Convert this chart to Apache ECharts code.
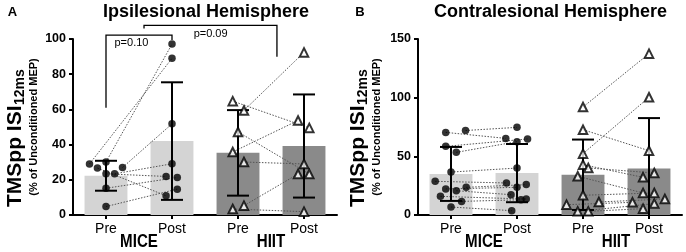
<!DOCTYPE html>
<html><head><meta charset="utf-8">
<script src="https://cdn.jsdelivr.net/npm/echarts@6/dist/echarts.min.js"></script>
<style>html,body{margin:0;padding:0;background:#fff}#c{width:686px;height:252px}</style>
</head><body><div id="c"></div>
<script>
// ---------- DATA ----------
const categories = ['Pre', 'Post', 'Pre', 'Post'];
const groups = ['MICE', 'HIIT'];
const groupPos = [0.5, 2.5];

// Panel A: Ipsilesional Hemisphere (y 0-100)
const A_means = [22.3, 42.0, 35.3, 39.2];
const A_sd = [8.5, 33.4, 24.3, 29.3];
const A_micePre = [29.0, 30.1, 27.0, 23.4, 23.4, 26.7, 15.2, 4.8];
const A_micePreJit = [-0.25, 0, 0.25, 0.13, 0, -0.13, 0, 0];
const A_micePost = [89.0, 97.1, 51.8, 29.1, 21.9, 10.9, 21.3, 14.7];
const A_micePostJit = [0, 0, 0, 0, -0.09, -0.09, 0.08, 0.08];
const A_hiitPre = [59.4, 64.7, 35.8, 47.2, 30.1, 5.3, 3.4];
const A_hiitPreJit = [0.09, -0.08, -0.08, 0, 0.09, 0.09, -0.08];
const A_hiitPost = [92.4, 49.5, 53.7, 23.3, 29.0, 23.3, 1.9];
const A_hiitPostJit = [0, 0.08, -0.09, 0.08, 0, -0.09, 0];
// significance brackets: [x1, x2, yTop, yLeftEnd, yRightEnd]
const A_brackets = [[0, 1, 102.2, 60.9, 99.4], [0.576, 2.59, 107.7, 105.9, 89.9]];
const A_pTexts = ['p=0.10', 'p=0.09'];
const A_pPos = [[0.386, 97.9], [1.585, 102.9]];

// Panel B: Contralesional Hemisphere (y 0-150)
const B_means = [35.0, 35.7, 34.3, 39.6];
const B_sd = [23.0, 24.8, 30.0, 43.0];
const B_micePre = [72.0, 70.4, 58.5, 53.4, 36.6, 28.7, 23.6, 22.2, 20.7, 15.9, 11.6, 6.8];
const B_micePreJit = [0.22, -0.08, -0.08, 0.08, 0, -0.24, 0.23, -0.08, 0.08, -0.16, 0.16, 0];
const B_micePost = [74.7, 65.3, 64.8, 62.5, 40.0, 27.3, 25.9, 23.6, 17.3, 13.6, 13.0, 3.7];
const B_micePostJit = [0, -0.17, 0.16, 0, 0, -0.16, 0.14, 0, -0.09, 0.14, 0.06, -0.08];
const B_hiitPre = [92.0, 72.7, 52.3, 42.9, 40.1, 33.0, 16.8, 11.1, 8.8, 3.1, 3.1];
const B_hiitPreJit = [0, 0, 0, 0, 0.08, -0.08, 0, 0.24, -0.25, -0.08, 0.08];
const B_hiitPost = [137.5, 54.8, 100.3, 32.1, 35.8, 18.8, 18.8, 13.6, 10.8, 9.7, 5.4];
const B_hiitPostJit = [0, 0, 0, -0.09, 0.08, -0.09, 0.08, 0.24, -0.25, 0.08, -0.09];

const titles = ['Ipsilesional Hemisphere', 'Contralesional Hemisphere'];
const panelLetters = ['A', 'B'];

// ---------- STYLE ----------
const FONT = '"Liberation Sans", Arial, sans-serif';
const LIGHT = '#d4d4d4', DARK = '#8a8a8a';

function pts(vals, jit, idx) { return vals.map((v, i) => [idx + jit[i], v]); }
function pairs(pre, preJ, post, postJ, i0) {
  return pre.map((v, i) => [i0 + preJ[i], v, i0 + 1 + postJ[i], post[i]]);
}

function panelSeries(g, means, sd, mPre, mPreJ, mPost, mPostJ, hPre, hPreJ, hPost, hPostJ) {
  const xc = g * 2, xv = g * 2 + 1;
  const s = [];
  s.push({
    type: 'bar', xAxisIndex: xc, yAxisIndex: g, barWidth: '65%', z: 1,
    data: means.map((m, i) => ({ value: m, itemStyle: { color: i < 2 ? LIGHT : DARK } })),
    silent: true
  });
  s.push({
    type: 'custom', xAxisIndex: xv, yAxisIndex: g, z: 3, silent: true,
    data: pairs(mPre, mPreJ, mPost, mPostJ, 0).concat(pairs(hPre, hPreJ, hPost, hPostJ, 2)),
    encode: { x: [0, 2], y: [1, 3] },
    renderItem(params, api) {
      const p1 = api.coord([api.value(0), api.value(1)]);
      const p2 = api.coord([api.value(2), api.value(3)]);
      return { type: 'line', shape: { x1: p1[0], y1: p1[1], x2: p2[0], y2: p2[1] },
        style: { stroke: '#555', lineWidth: 1, lineDash: [1.5, 1.5] } };
    }
  });
  s.push({
    type: 'custom', xAxisIndex: xv, yAxisIndex: g, z: 4, silent: true,
    data: means.map((m, i) => [i, m, sd[i]]),
    renderItem(params, api) {
      const x = api.value(0), m = api.value(1), d = api.value(2);
      const lo = Math.max(0, m - d);
      const t = api.coord([x, m + d]), b = api.coord([x, lo]);
      const c = [];
      const st = { stroke: '#000', lineWidth: 2 };
      c.push({ type: 'line', shape: { x1: t[0], y1: t[1], x2: b[0], y2: b[1] }, style: st });
      c.push({ type: 'line', shape: { x1: t[0] - 11, y1: t[1], x2: t[0] + 11, y2: t[1] }, style: st });
      if (m - d > 0) c.push({ type: 'line', shape: { x1: b[0] - 11, y1: b[1], x2: b[0] + 11, y2: b[1] }, style: st });
      return { type: 'group', children: c };
    }
  });
  s.push({
    type: 'scatter', xAxisIndex: xv, yAxisIndex: g, z: 5, silent: true,
    symbol: 'circle', symbolSize: 7.5, itemStyle: { color: '#000' },
    data: pts(mPre, mPreJ, 0).concat(pts(mPost, mPostJ, 1))
  });
  s.push({
    type: 'scatter', xAxisIndex: xv, yAxisIndex: g, z: 5, silent: true,
    symbol: 'triangle', symbolSize: 8.5, itemStyle: { color: '#fff', borderColor: '#000', borderWidth: 2 },
    data: pts(hPre, hPreJ, 2).concat(pts(hPost, hPostJ, 3))
  });
  s.push({
    type: 'custom', xAxisIndex: xv, yAxisIndex: g, z: 6, silent: true, clip: false,
    data: groupPos.map(p => [p, 0]),
    renderItem(params, api) {
      const p = api.coord([api.value(0), 0]);
      return { type: 'text', x: p[0], y: p[1] + 27, scaleX: 0.84,
        style: { text: groups[params.dataIndex], font: 'bold 18px ' + FONT, fill: '#000', align: 'center', verticalAlign: 'middle' } };
    }
  });
  return s;
}

const series = panelSeries(0, A_means, A_sd, A_micePre, A_micePreJit, A_micePost, A_micePostJit,
  A_hiitPre, A_hiitPreJit, A_hiitPost, A_hiitPostJit)
  .concat(panelSeries(1, B_means, B_sd, B_micePre, B_micePreJit, B_micePost, B_micePostJit,
  B_hiitPre, B_hiitPreJit, B_hiitPost, B_hiitPostJit));

series.push({
  type: 'custom', xAxisIndex: 1, yAxisIndex: 0, z: 6, silent: true, clip: false,
  data: A_brackets,
  encode: { x: [0, 1], y: [2, 3, 4] },
  renderItem(params, api) {
    const x1 = api.value(0), x2 = api.value(1), yt = api.value(2), yl = api.value(3), yr = api.value(4);
    const pts = [api.coord([x1, yl]), api.coord([x1, yt]), api.coord([x2, yt]), api.coord([x2, yr])];
    return { type: 'polyline', shape: { points: pts }, style: { stroke: '#000', lineWidth: 1.3, fill: null } };
  }
});
series.push({
  type: 'custom', xAxisIndex: 1, yAxisIndex: 0, z: 6, silent: true, clip: false,
  data: A_pPos,
  renderItem(params, api) {
    const p = api.coord([api.value(0), api.value(1)]);
    return { type: 'text', x: p[0], y: p[1],
      style: { text: A_pTexts[params.dataIndex], font: '11px ' + FONT, fill: '#000', align: 'center', verticalAlign: 'middle' } };
  }
});

const axisLine = { show: true, onZero: false, lineStyle: { color: '#000', width: 2 } };
const axisTick = { show: true, length: 4, lineStyle: { color: '#000', width: 2 } };

function catAxis(g) {
  return { type: 'category', gridIndex: g, data: categories, boundaryGap: true,
    axisLine, axisTick: Object.assign({ alignWithLabel: true }, axisTick),
    axisLabel: { color: '#000', fontFamily: FONT, fontSize: 14, margin: 7 } };
}
function valAxisX(g) {
  return { type: 'value', gridIndex: g, min: -0.5, max: 3.5, show: false,
    axisLine: { show: false, onZero: false }, splitLine: { show: false } };
}
function yAx(g, max, interval) {
  return { type: 'value', gridIndex: g, min: 0, max, interval, splitLine: { show: false },
    axisLine, axisTick,
    axisLabel: { color: '#000', fontFamily: FONT, fontSize: 12.5, fontWeight: 'bold', margin: 7 } };
}

function yTitle(x0) {
  return {
    type: 'group', x: x0, y: 207, rotation: Math.PI / 2,
    children: [
      { type: 'text', x: 0, y: 15, style: { text: 'TMSpp ISI', font: 'bold 21px ' + FONT, fill: '#000', align: 'left', verticalAlign: 'middle' } },
      { type: 'text', x: 102, y: 20, style: { text: '12ms', font: 'bold 14px ' + FONT, fill: '#000', align: 'left', verticalAlign: 'middle' } },
      { type: 'text', x: 80, y: 34, style: { text: '(% of Unconditioned MEP)', font: 'bold 11px ' + FONT, fill: '#000', align: 'center', verticalAlign: 'middle' } }
    ]
  };
}

const chart = echarts.init(document.getElementById('c'), null, { renderer: 'canvas' });
chart.setOption({
  animation: false,
  backgroundColor: '#fff',
  grid: [
    { left: 73, top: 39, width: 264, height: 176 },
    { left: 418, top: 39, width: 264, height: 176 }
  ],
  xAxis: [catAxis(0), valAxisX(0), catAxis(1), valAxisX(1)],
  yAxis: [yAx(0, 100, 20), yAx(1, 150, 50)],
  series,
  graphic: [
    { type: 'text', x: 12.5, y: 12.5, style: { text: panelLetters[0], font: 'bold 13px ' + FONT, fill: '#000', align: 'center', verticalAlign: 'middle' } },
    { type: 'text', x: 360, y: 12.5, style: { text: panelLetters[1], font: 'bold 13px ' + FONT, fill: '#000', align: 'center', verticalAlign: 'middle' } },
    { type: 'text', x: 206, y: 12.5, style: { text: titles[0], font: 'bold 18px ' + FONT, fill: '#000', align: 'center', verticalAlign: 'middle' } },
    { type: 'text', x: 550.5, y: 12.5, style: { text: titles[1], font: 'bold 18px ' + FONT, fill: '#000', align: 'center', verticalAlign: 'middle' } },
    yTitle(0),
    yTitle(343)
  ]
});
</script>
</body></html>
